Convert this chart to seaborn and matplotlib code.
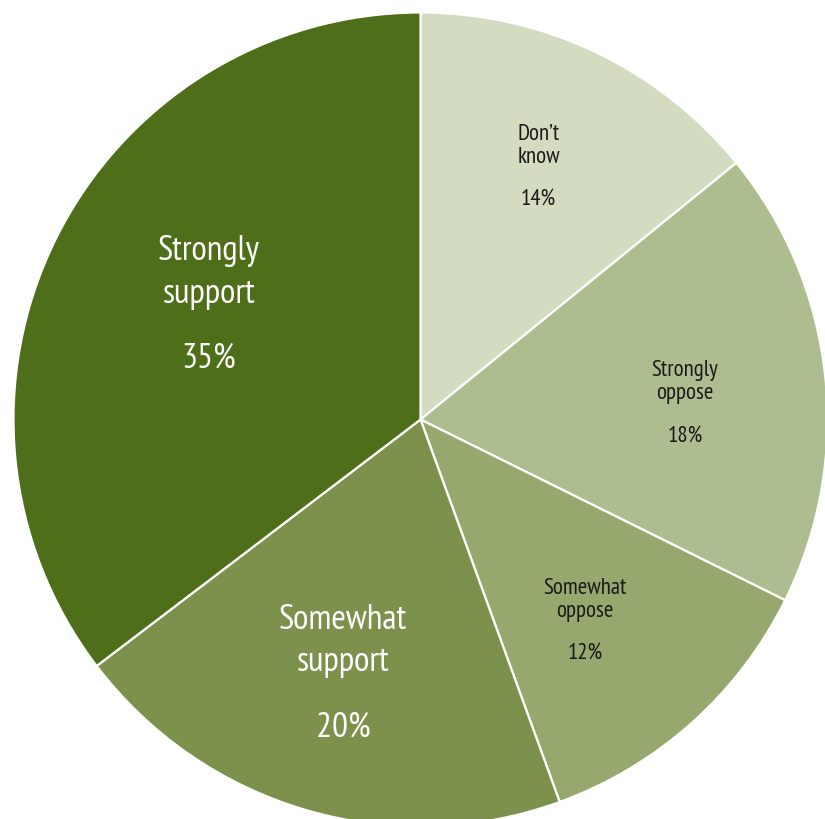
import numpy as np
import matplotlib
matplotlib.use("Agg")
import matplotlib.pyplot as plt
import seaborn as sns

# Survey responses, clockwise from the top
categories = ["Don\u2019t\nknow", "Strongly\noppose", "Somewhat\noppose",
              "Somewhat\nsupport", "Strongly\nsupport"]
shares = [14, 18, 12, 20, 35]
pct_labels = ["14%", "18%", "12%", "20%", "35%"]

# Styling per slice
slice_colors = ["#d3dbc0", "#adbd8f", "#96a86e", "#7b914c", "#4e6e1a"]
text_colors = ["#1a1a1a", "#1a1a1a", "#1a1a1a", "white", "white"]
text_sizes = [16.5, 16.5, 16.5, 25.5, 25.5]
line_spacing = [1.15, 1.15, 1.15, 1.42, 1.42]
# Label anchor: fraction of radius, angular nudge (deg, clockwise), gap name->pct (px)
label_radius = [0.675, 0.65, 0.648, 0.675, 0.58]
label_nudge = [0.0, 3.9, 3.2, 0.0, 0.0]
label_gap = [53, 54, 53, 86, 86]

sns.set_theme(style="white")
plt.rcParams["font.family"] = ["PT Sans Narrow", "DejaVu Sans"]

W, H, DPI = 825, 820, 100
fig = plt.figure(figsize=(W / DPI, H / DPI), dpi=DPI)
ax = fig.add_axes([0, 0, 1, 1])

R = 407.0
wedges, _ = ax.pie(
    shares,
    colors=slice_colors,
    startangle=90,
    counterclock=False,
    radius=R,
    center=(0, 0),
    wedgeprops=dict(edgecolor="white", linewidth=1.6),
)

# Pixel-scaled view: pie centre sits at (420.5, 420.5) from the top-left corner
cx, cy = 420.5, 420.5
ax.set_xlim(-cx, W - cx)
ax.set_ylim(-(H - cy), cy)
ax.set_aspect("equal")
ax.axis("off")

for w, name, pct, tc, fs, ls, lr, nudge, gap in zip(
        wedges, categories, pct_labels, text_colors, text_sizes,
        line_spacing, label_radius, label_nudge, label_gap):
    mid = np.deg2rad((w.theta1 + w.theta2) / 2.0 - nudge)
    x = lr * R * np.cos(mid)
    y = lr * R * np.sin(mid)
    ax.text(x, y + gap / 2, name, ha="center", va="center", color=tc,
            fontsize=fs, linespacing=ls)
    ax.text(x, y - gap / 2, pct, ha="center", va="center", color=tc,
            fontsize=fs)

fig.savefig("out.png", dpi=DPI, facecolor="white")
